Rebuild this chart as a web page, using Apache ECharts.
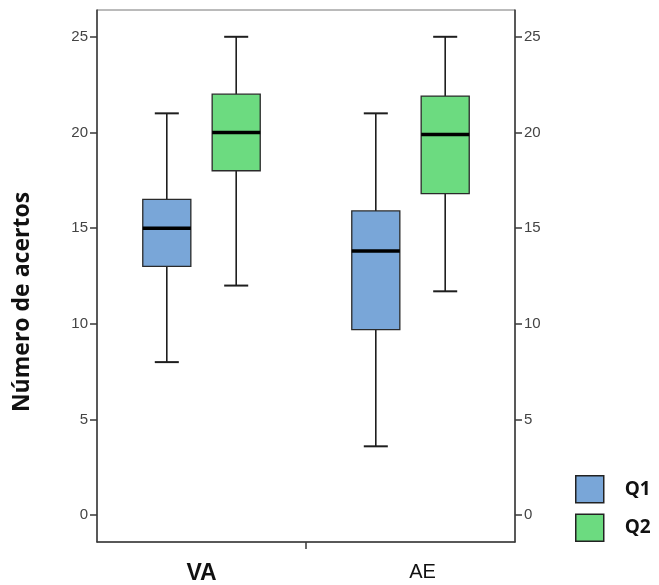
<!DOCTYPE html>
<html>
<head>
<meta charset="utf-8">
<script src="https://cdn.jsdelivr.net/npm/echarts@6/dist/echarts.min.js"></script>
<style>html,body{margin:0;padding:0;background:#fff}#c{width:659px;height:585px}</style>
</head>
<body>
<div id="c"></div>
<script>
// Categories and series (boxplot stats: min, Q1, median, Q3, max)
const categories = ['VA', 'AE'];
const seriesNames = ['Q1', 'Q2'];
const q1Stats = [
  [8, 13, 15, 16.5, 21],
  [3.6, 9.7, 13.8, 15.9, 21]
];
const q2Stats = [
  [12, 18, 20, 22, 25],
  [11.7, 16.8, 19.9, 21.9, 25]
];
const yTicks = [0, 5, 10, 15, 20, 25];

const colors = ['#79a6d8', '#6cdb80'];
const offsets = [-0.166, 0.166];

function makeRender(offset) {
  return function (params, api) {
    const xi = api.value(0);
    const band = api.size([1, 0])[0];
    const bw = band * 0.23, cw = band * 0.115;
    const cx = api.coord([xi, 0])[0] + offset * band;
    const y = (d) => api.coord([xi, api.value(d)])[1];
    const yMin = y(1), yQ1 = y(2), yMed = y(3), yQ3 = y(4), yMax = y(5);
    const stroke = '#1e1e1e';
    const lw = 1.6;
    return {
      type: 'group',
      children: [
        {type: 'line', shape: {x1: cx, y1: yMax, x2: cx, y2: yQ3}, style: {stroke, lineWidth: lw}},
        {type: 'line', shape: {x1: cx, y1: yQ1, x2: cx, y2: yMin}, style: {stroke, lineWidth: lw}},
        {type: 'line', shape: {x1: cx - cw / 2, y1: yMax, x2: cx + cw / 2, y2: yMax}, style: {stroke, lineWidth: 2}},
        {type: 'line', shape: {x1: cx - cw / 2, y1: yMin, x2: cx + cw / 2, y2: yMin}, style: {stroke, lineWidth: 2}},
        {type: 'rect', shape: {x: cx - bw / 2, y: yQ3, width: bw, height: yQ1 - yQ3},
          style: {fill: api.visual('color'), stroke: '#2a2a2a', lineWidth: 1.3}},
        {type: 'line', shape: {x1: cx - bw / 2, y1: yMed, x2: cx + bw / 2, y2: yMed}, style: {stroke: '#000', lineWidth: 3.5}}
      ]
    };
  };
}

function toData(stats) {
  return stats.map((s, i) => [i].concat(s));
}

const chart = echarts.init(document.getElementById('c'), null, {renderer: 'canvas'});
const axisLine = {show: true, onZero: false, lineStyle: {color: '#3a3a3a', width: 1.5}};
const yLabel = {color: '#444', fontSize: 15, fontFamily: 'Liberation Sans, Arial, sans-serif', customValues: yTicks};
chart.setOption({
  animation: false,
  grid: {left: 97, right: 144, top: 10, bottom: 42, show: true, borderColor: '#777', borderWidth: 1},
  legend: {
    orient: 'vertical', left: 575, top: 475, padding: 0, itemWidth: 28, itemHeight: 27, itemGap: 10,
    icon: 'rect',
    itemStyle: {borderColor: '#222', borderWidth: 1.5},
    textStyle: {fontSize: 19, fontWeight: 'bold', color: '#111', fontFamily: 'Open Sans, sans-serif', padding: [0, 0, 0, 16]},
    data: seriesNames
  },
  xAxis: {
    type: 'value', min: -0.5, max: 1.5,
    splitLine: {show: false},
    axisLine: axisLine,
    axisTick: {show: true, length: 7, customValues: [0.5], lineStyle: {color: '#3a3a3a', width: 1.5}},
    axisLabel: {
      customValues: [0, 1], margin: 20,
      formatter: (v) => (v === 0 ? '{b|' + categories[0] + '}' : '{n|' + categories[1] + '}'),
      rich: {
        b: {fontSize: 23, fontWeight: 'bold', color: '#111', fontFamily: 'Liberation Sans, Arial, sans-serif'},
        n: {fontSize: 20, color: '#111', fontFamily: 'Liberation Sans, Arial, sans-serif', padding: [0, 0, 0, 24]}
      }
    }
  },
  yAxis: [
    {
      type: 'value', position: 'left', min: -1.4, max: 26.4,
      name: 'Número de acertos', nameLocation: 'middle', nameGap: 63, nameRotate: 90,
      nameTextStyle: {fontSize: 23, fontWeight: 'bold', color: '#111', fontFamily: 'Open Sans, sans-serif', padding: [0, 52, 0, 0]},
      splitLine: {show: false},
      axisLine: axisLine,
      axisTick: {show: true, length: 7, customValues: yTicks, lineStyle: {color: '#3a3a3a', width: 1.5}},
      axisLabel: Object.assign({margin: 9}, yLabel)
    },
    {
      type: 'value', position: 'right', min: -1.4, max: 26.4,
      splitLine: {show: false},
      axisLine: axisLine,
      axisTick: {show: true, length: 7, customValues: yTicks, lineStyle: {color: '#3a3a3a', width: 1.5}},
      axisLabel: Object.assign({margin: 9}, yLabel)
    }
  ],
  series: [
    {name: seriesNames[0], type: 'custom', renderItem: makeRender(offsets[0]), itemStyle: {color: colors[0]},
      encode: {x: 0, y: [1, 2, 3, 4, 5]}, data: toData(q1Stats)},
    {name: seriesNames[1], type: 'custom', renderItem: makeRender(offsets[1]), itemStyle: {color: colors[1]},
      encode: {x: 0, y: [1, 2, 3, 4, 5]}, data: toData(q2Stats)}
  ]
});
</script>
</body>
</html>
